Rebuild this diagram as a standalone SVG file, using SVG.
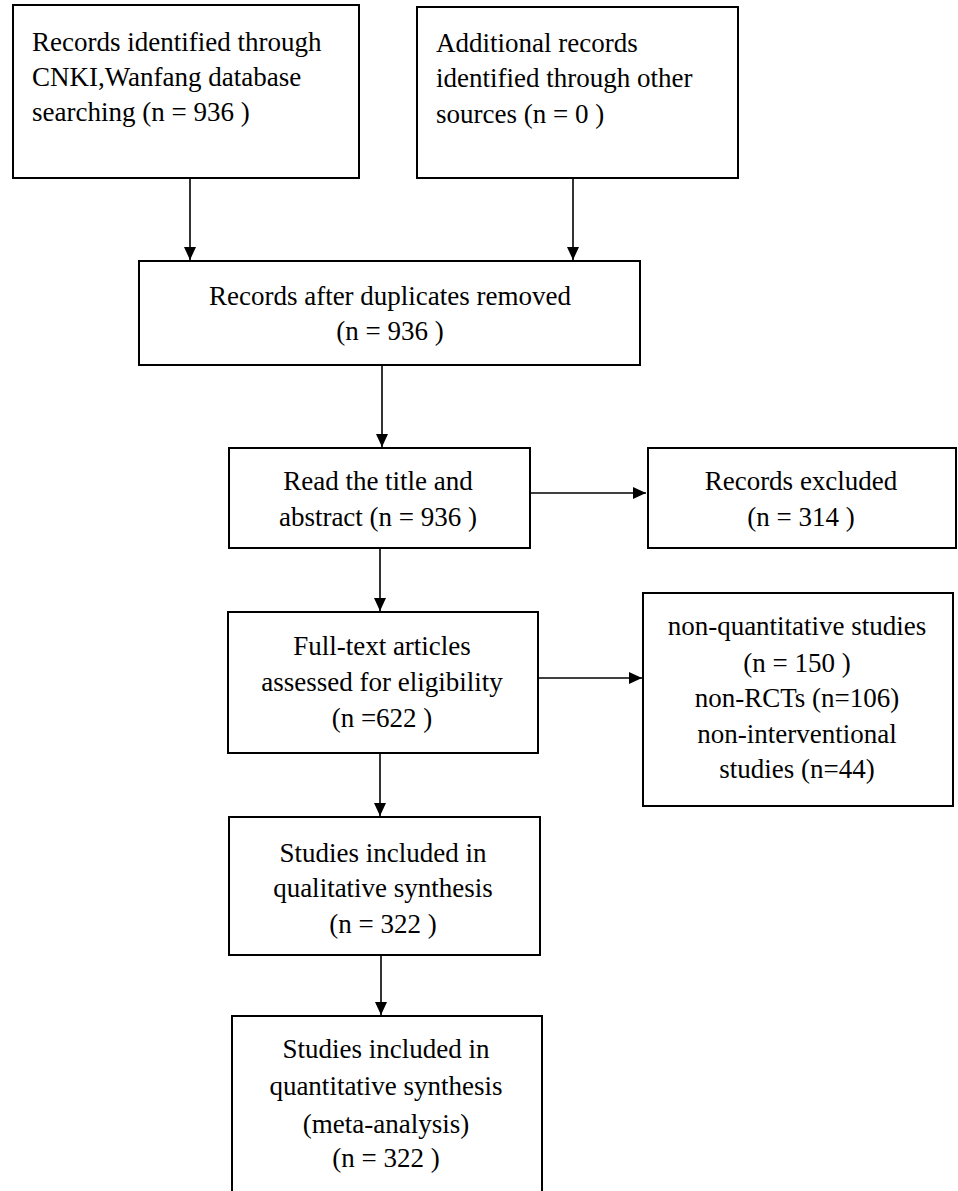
<svg xmlns="http://www.w3.org/2000/svg" width="958" height="1191" viewBox="0 0 958 1191">
<style>
.box{fill:#fff;stroke:#000;stroke-width:2}
.t{font-family:"Liberation Serif","Times New Roman",serif;font-size:27px;fill:#000}
.c{text-anchor:middle}
.ln{stroke:#000;stroke-width:1.6;fill:none}
</style>
<defs>
<marker id="ah" viewBox="0 0 12 12" refX="12" refY="6" markerWidth="13" markerHeight="12" markerUnits="userSpaceOnUse" orient="auto" preserveAspectRatio="none">
<path d="M0,0 L12,6 L0,12 Z" fill="#000"/>
</marker>
</defs>
<rect width="958" height="1191" fill="#fff"/>
<g id="connectors">
<line class="ln" x1="190" y1="178" x2="190" y2="260" marker-end="url(#ah)"/>
<line class="ln" x1="573" y1="178" x2="573" y2="260" marker-end="url(#ah)"/>
<line class="ln" x1="382" y1="365" x2="382" y2="447" marker-end="url(#ah)"/>
<line class="ln" x1="530" y1="493" x2="646" y2="493" marker-end="url(#ah)"/>
<line class="ln" x1="380" y1="548" x2="380" y2="611" marker-end="url(#ah)"/>
<line class="ln" x1="538" y1="678" x2="642" y2="678" marker-end="url(#ah)"/>
<line class="ln" x1="380" y1="753" x2="380" y2="816" marker-end="url(#ah)"/>
<line class="ln" x1="381" y1="955" x2="381" y2="1015" marker-end="url(#ah)"/>
</g>
<g id="n1">
<rect class="box" x="13" y="5" width="346" height="173"/>
<text class="t" x="32" y="51">Records identified through</text>
<text class="t" x="32" y="86">CNKI,Wanfang database</text>
<text class="t" x="32" y="121">searching (n = 936 )</text>
</g>
<g id="n2">
<rect class="box" x="417" y="7" width="321" height="171"/>
<text class="t" x="436" y="52">Additional records</text>
<text class="t" x="436" y="87">identified through other</text>
<text class="t" x="436" y="123">sources (n = 0 )</text>
</g>
<g id="n3">
<rect class="box" x="139" y="261" width="501" height="104"/>
<text class="t c" x="390" y="305">Records after duplicates removed</text>
<text class="t c" x="390" y="340">(n = 936 )</text>
</g>
<g id="n4">
<rect class="box" x="229" y="448" width="301" height="100"/>
<text class="t c" x="378" y="490">Read the title and</text>
<text class="t c" x="378" y="526">abstract (n = 936 )</text>
</g>
<g id="n5">
<rect class="box" x="648" y="448" width="308" height="100"/>
<text class="t c" x="801" y="490">Records excluded</text>
<text class="t c" x="801" y="526">(n = 314 )</text>
</g>
<g id="n6">
<rect class="box" x="228" y="612" width="310" height="141"/>
<text class="t c" x="382" y="655">Full-text articles</text>
<text class="t c" x="382" y="691">assessed for eligibility</text>
<text class="t c" x="382" y="727">(n =622 )</text>
</g>
<g id="n7">
<rect class="box" x="643" y="593" width="310" height="213"/>
<text class="t c" x="797" y="635">non-quantitative studies</text>
<text class="t c" x="797" y="672">(n = 150 )</text>
<text class="t c" x="797" y="707">non-RCTs (n=106)</text>
<text class="t c" x="797" y="743">non-interventional</text>
<text class="t c" x="797" y="778">studies (n=44)</text>
</g>
<g id="n8">
<rect class="box" x="229" y="817" width="311" height="138"/>
<text class="t c" x="383" y="862">Studies included in</text>
<text class="t c" x="383" y="897">qualitative synthesis</text>
<text class="t c" x="383" y="933">(n = 322 )</text>
</g>
<g id="n9">
<rect class="box" x="232" y="1016" width="310" height="190"/>
<text class="t c" x="386" y="1058">Studies included in</text>
<text class="t c" x="386" y="1095">quantitative synthesis</text>
<text class="t c" x="386" y="1133">(meta-analysis)</text>
<text class="t c" x="386" y="1167">(n = 322 )</text>
</g>
</svg>
